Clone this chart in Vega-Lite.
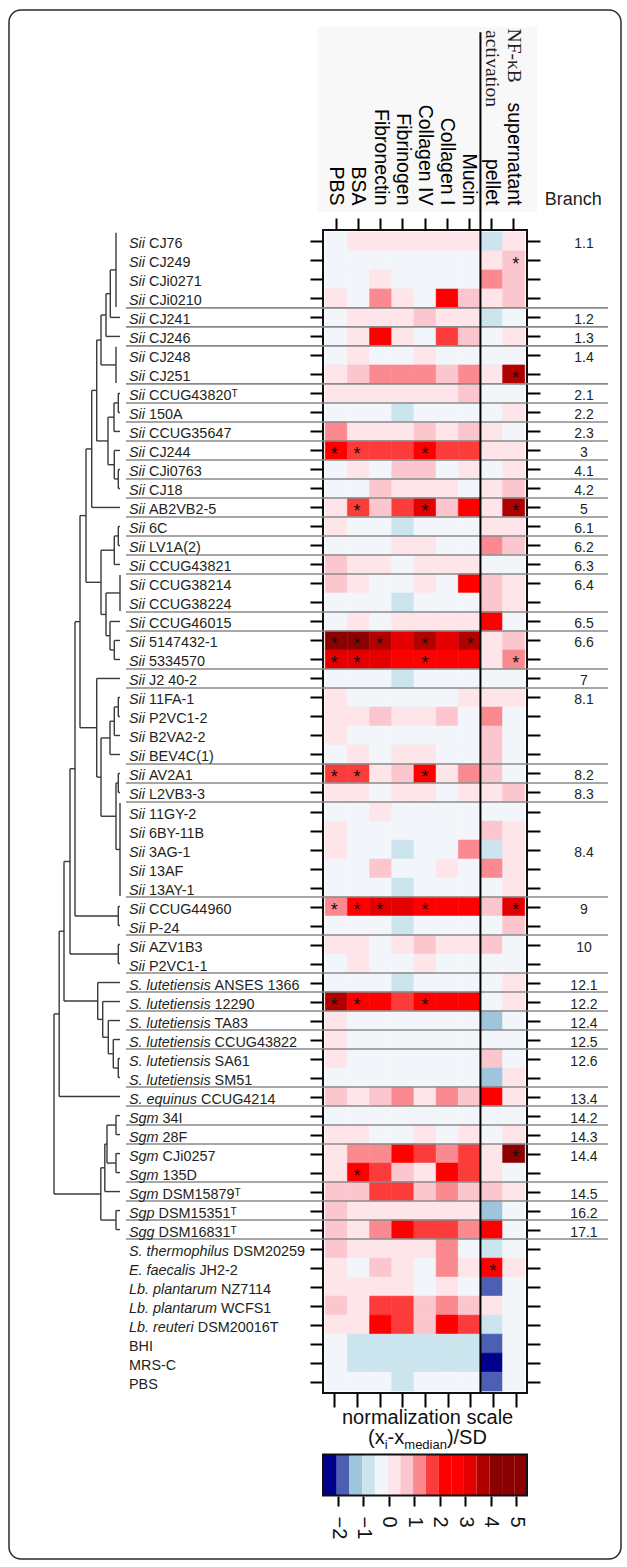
{
"$schema": "https://vega.github.io/schema/vega-lite/v6.json",
"width": 204,
"height": 1163,
"autosize": {"type": "none"},
"padding": {"left": 323, "top": 230, "right": 100, "bottom": 174},
"background": "#ffffff",
"config": {"font": "Liberation Sans", "view": {"stroke": "#111111", "strokeWidth": 2}, "axis": {"grid": false, "domain": false}},
"resolve": {"scale": {"x": "independent", "y": "independent"}},
"datasets": {
"strains": [
{"row":1,"sp":"Sii","id":"CJ76","PBS":-0.3,"BSA":0.2,"Fibronectin":0.2,"Fibrinogen":0.2,"Collagen IV":0.2,"Collagen I":0.2,"Mucin":0.2,"pellet":-0.8,"supernatant":0.2},
{"row":2,"sp":"Sii","id":"CJ249","PBS":-0.3,"BSA":-0.3,"Fibronectin":-0.3,"Fibrinogen":-0.3,"Collagen IV":-0.3,"Collagen I":-0.3,"Mucin":-0.3,"pellet":0.2,"supernatant":0.7},
{"row":3,"sp":"Sii","id":"CJi0271","PBS":-0.3,"BSA":-0.3,"Fibronectin":0.2,"Fibrinogen":-0.3,"Collagen IV":-0.3,"Collagen I":-0.3,"Mucin":-0.3,"pellet":1.2,"supernatant":0.7},
{"row":4,"sp":"Sii","id":"CJi0210","PBS":0.2,"BSA":-0.3,"Fibronectin":1.2,"Fibrinogen":0.2,"Collagen IV":-0.3,"Collagen I":2.2,"Mucin":0.7,"pellet":0.2,"supernatant":0.7},
{"row":5,"sp":"Sii","id":"CJ241","PBS":-0.3,"BSA":0.2,"Fibronectin":0.2,"Fibrinogen":0.2,"Collagen IV":0.7,"Collagen I":0.2,"Mucin":0.2,"pellet":-0.8,"supernatant":-0.3},
{"row":6,"sp":"Sii","id":"CJ246","PBS":-0.3,"BSA":0.2,"Fibronectin":2.2,"Fibrinogen":0.2,"Collagen IV":-0.3,"Collagen I":1.7,"Mucin":0.7,"pellet":-0.3,"supernatant":0.2},
{"row":7,"sp":"Sii","id":"CJ248","PBS":-0.3,"BSA":0.2,"Fibronectin":-0.3,"Fibrinogen":-0.3,"Collagen IV":0.2,"Collagen I":-0.3,"Mucin":-0.3,"pellet":-0.3,"supernatant":-0.3},
{"row":8,"sp":"Sii","id":"CJ251","PBS":0.2,"BSA":0.7,"Fibronectin":1.2,"Fibrinogen":1.2,"Collagen IV":1.2,"Collagen I":0.7,"Mucin":1.2,"pellet":0.2,"supernatant":3.7},
{"row":9,"sp":"Sii","id":"CCUG43820\u1d40","PBS":0.2,"BSA":0.2,"Fibronectin":0.2,"Fibrinogen":0.2,"Collagen IV":0.2,"Collagen I":0.2,"Mucin":0.7,"pellet":-0.3,"supernatant":-0.3},
{"row":10,"sp":"Sii","id":"150A","PBS":-0.3,"BSA":-0.3,"Fibronectin":-0.3,"Fibrinogen":-0.8,"Collagen IV":-0.3,"Collagen I":-0.3,"Mucin":-0.3,"pellet":-0.3,"supernatant":0.2},
{"row":11,"sp":"Sii","id":"CCUG35647","PBS":1.2,"BSA":0.2,"Fibronectin":0.2,"Fibrinogen":0.2,"Collagen IV":0.7,"Collagen I":0.2,"Mucin":0.7,"pellet":0.2,"supernatant":-0.3},
{"row":12,"sp":"Sii","id":"CJ244","PBS":2.2,"BSA":1.7,"Fibronectin":1.7,"Fibrinogen":1.7,"Collagen IV":2.2,"Collagen I":1.7,"Mucin":1.7,"pellet":0.2,"supernatant":0.2},
{"row":13,"sp":"Sii","id":"CJi0763","PBS":-0.3,"BSA":0.2,"Fibronectin":-0.3,"Fibrinogen":0.7,"Collagen IV":0.7,"Collagen I":-0.3,"Mucin":0.2,"pellet":-0.3,"supernatant":0.2},
{"row":14,"sp":"Sii","id":"CJ18","PBS":-0.3,"BSA":-0.3,"Fibronectin":0.7,"Fibrinogen":0.2,"Collagen IV":0.2,"Collagen I":0.2,"Mucin":-0.3,"pellet":0.2,"supernatant":0.7},
{"row":15,"sp":"Sii","id":"AB2VB2-5","PBS":0.2,"BSA":1.7,"Fibronectin":0.7,"Fibrinogen":1.7,"Collagen IV":3.2,"Collagen I":0.7,"Mucin":2.2,"pellet":0.2,"supernatant":3.7},
{"row":16,"sp":"Sii","id":"6C","PBS":0.2,"BSA":-0.3,"Fibronectin":-0.3,"Fibrinogen":-0.8,"Collagen IV":-0.3,"Collagen I":-0.3,"Mucin":-0.3,"pellet":0.2,"supernatant":0.2},
{"row":17,"sp":"Sii","id":"LV1A(2)","PBS":-0.3,"BSA":-0.3,"Fibronectin":-0.3,"Fibrinogen":0.2,"Collagen IV":0.2,"Collagen I":-0.3,"Mucin":-0.3,"pellet":1.2,"supernatant":0.7},
{"row":18,"sp":"Sii","id":"CCUG43821","PBS":0.7,"BSA":0.2,"Fibronectin":0.2,"Fibrinogen":-0.3,"Collagen IV":0.2,"Collagen I":0.2,"Mucin":0.2,"pellet":-0.3,"supernatant":-0.3},
{"row":19,"sp":"Sii","id":"CCUG38214","PBS":0.7,"BSA":0.2,"Fibronectin":-0.3,"Fibrinogen":-0.3,"Collagen IV":0.2,"Collagen I":-0.3,"Mucin":2.2,"pellet":0.7,"supernatant":0.2},
{"row":20,"sp":"Sii","id":"CCUG38224","PBS":-0.3,"BSA":-0.3,"Fibronectin":-0.3,"Fibrinogen":-0.8,"Collagen IV":-0.3,"Collagen I":-0.3,"Mucin":-0.3,"pellet":0.7,"supernatant":0.2},
{"row":21,"sp":"Sii","id":"CCUG46015","PBS":-0.3,"BSA":0.2,"Fibronectin":-0.3,"Fibrinogen":0.2,"Collagen IV":0.2,"Collagen I":0.2,"Mucin":0.2,"pellet":2.2,"supernatant":-0.3},
{"row":22,"sp":"Sii","id":"5147432-1","PBS":4.2,"BSA":4.2,"Fibronectin":3.7,"Fibrinogen":3.2,"Collagen IV":3.7,"Collagen I":3.2,"Mucin":3.7,"pellet":0.2,"supernatant":0.7},
{"row":23,"sp":"Sii","id":"5334570","PBS":3.2,"BSA":3.2,"Fibronectin":3.2,"Fibrinogen":2.2,"Collagen IV":2.2,"Collagen I":2.2,"Mucin":2.2,"pellet":0.2,"supernatant":1.2},
{"row":24,"sp":"Sii","id":"J2 40-2","PBS":-0.3,"BSA":-0.3,"Fibronectin":-0.3,"Fibrinogen":-0.8,"Collagen IV":-0.3,"Collagen I":-0.3,"Mucin":-0.3,"pellet":-0.3,"supernatant":-0.3},
{"row":25,"sp":"Sii","id":"11FA-1","PBS":0.2,"BSA":-0.3,"Fibronectin":-0.3,"Fibrinogen":-0.3,"Collagen IV":-0.3,"Collagen I":-0.3,"Mucin":0.2,"pellet":0.2,"supernatant":0.2},
{"row":26,"sp":"Sii","id":"P2VC1-2","PBS":0.2,"BSA":0.2,"Fibronectin":0.7,"Fibrinogen":0.2,"Collagen IV":0.2,"Collagen I":0.7,"Mucin":-0.3,"pellet":1.2,"supernatant":-0.3},
{"row":27,"sp":"Sii","id":"B2VA2-2","PBS":0.2,"BSA":-0.3,"Fibronectin":-0.3,"Fibrinogen":-0.3,"Collagen IV":-0.3,"Collagen I":-0.3,"Mucin":-0.3,"pellet":0.7,"supernatant":-0.3},
{"row":28,"sp":"Sii","id":"BEV4C(1)","PBS":-0.3,"BSA":0.2,"Fibronectin":-0.3,"Fibrinogen":0.2,"Collagen IV":0.2,"Collagen I":-0.3,"Mucin":-0.3,"pellet":0.7,"supernatant":-0.3},
{"row":29,"sp":"Sii","id":"AV2A1","PBS":1.7,"BSA":1.7,"Fibronectin":0.2,"Fibrinogen":0.7,"Collagen IV":2.2,"Collagen I":0.2,"Mucin":1.2,"pellet":0.7,"supernatant":-0.3},
{"row":30,"sp":"Sii","id":"L2VB3-3","PBS":0.2,"BSA":0.2,"Fibronectin":-0.3,"Fibrinogen":0.2,"Collagen IV":0.2,"Collagen I":-0.3,"Mucin":0.2,"pellet":0.2,"supernatant":0.7},
{"row":31,"sp":"Sii","id":"11GY-2","PBS":-0.3,"BSA":-0.3,"Fibronectin":0.2,"Fibrinogen":-0.3,"Collagen IV":-0.3,"Collagen I":-0.3,"Mucin":-0.3,"pellet":-0.3,"supernatant":-0.3},
{"row":32,"sp":"Sii","id":"6BY-11B","PBS":0.2,"BSA":-0.3,"Fibronectin":-0.3,"Fibrinogen":-0.3,"Collagen IV":-0.3,"Collagen I":-0.3,"Mucin":-0.3,"pellet":0.7,"supernatant":0.2},
{"row":33,"sp":"Sii","id":"3AG-1","PBS":0.2,"BSA":-0.3,"Fibronectin":-0.3,"Fibrinogen":-0.8,"Collagen IV":-0.3,"Collagen I":-0.3,"Mucin":1.2,"pellet":-0.8,"supernatant":0.2},
{"row":34,"sp":"Sii","id":"13AF","PBS":-0.3,"BSA":-0.3,"Fibronectin":0.7,"Fibrinogen":-0.3,"Collagen IV":-0.3,"Collagen I":0.2,"Mucin":-0.3,"pellet":1.2,"supernatant":0.2},
{"row":35,"sp":"Sii","id":"13AY-1","PBS":-0.3,"BSA":-0.3,"Fibronectin":-0.3,"Fibrinogen":-0.8,"Collagen IV":-0.3,"Collagen I":-0.3,"Mucin":-0.3,"pellet":-0.3,"supernatant":0.2},
{"row":36,"sp":"Sii","id":"CCUG44960","PBS":1.2,"BSA":2.2,"Fibronectin":3.2,"Fibrinogen":3.2,"Collagen IV":2.2,"Collagen I":2.2,"Mucin":2.2,"pellet":0.7,"supernatant":3.2},
{"row":37,"sp":"Sii","id":"P-24","PBS":-0.3,"BSA":-0.3,"Fibronectin":-0.3,"Fibrinogen":-0.8,"Collagen IV":-0.3,"Collagen I":-0.3,"Mucin":-0.3,"pellet":-0.3,"supernatant":0.7},
{"row":38,"sp":"Sii","id":"AZV1B3","PBS":0.2,"BSA":0.2,"Fibronectin":-0.3,"Fibrinogen":0.2,"Collagen IV":0.7,"Collagen I":0.2,"Mucin":0.2,"pellet":0.7,"supernatant":-0.3},
{"row":39,"sp":"Sii","id":"P2VC1-1","PBS":-0.3,"BSA":0.2,"Fibronectin":-0.3,"Fibrinogen":-0.3,"Collagen IV":0.2,"Collagen I":-0.3,"Mucin":-0.3,"pellet":-0.3,"supernatant":-0.3},
{"row":40,"sp":"S. lutetiensis","id":"ANSES 1366","PBS":-0.3,"BSA":-0.3,"Fibronectin":-0.3,"Fibrinogen":-0.8,"Collagen IV":-0.3,"Collagen I":-0.3,"Mucin":-0.3,"pellet":-0.3,"supernatant":0.2},
{"row":41,"sp":"S. lutetiensis","id":"12290","PBS":3.7,"BSA":2.2,"Fibronectin":2.2,"Fibrinogen":1.7,"Collagen IV":2.2,"Collagen I":2.2,"Mucin":2.2,"pellet":-0.3,"supernatant":0.2},
{"row":42,"sp":"S. lutetiensis","id":"TA83","PBS":0.2,"BSA":-0.3,"Fibronectin":-0.3,"Fibrinogen":-0.3,"Collagen IV":-0.3,"Collagen I":-0.3,"Mucin":-0.3,"pellet":-1.3,"supernatant":-0.3},
{"row":43,"sp":"S. lutetiensis","id":"CCUG43822","PBS":0.2,"BSA":-0.3,"Fibronectin":-0.3,"Fibrinogen":-0.3,"Collagen IV":-0.3,"Collagen I":-0.3,"Mucin":-0.3,"pellet":-0.3,"supernatant":-0.3},
{"row":44,"sp":"S. lutetiensis","id":"SA61","PBS":0.2,"BSA":-0.3,"Fibronectin":-0.3,"Fibrinogen":-0.3,"Collagen IV":-0.3,"Collagen I":-0.3,"Mucin":-0.3,"pellet":0.7,"supernatant":-0.3},
{"row":45,"sp":"S. lutetiensis","id":"SM51","PBS":-0.3,"BSA":-0.3,"Fibronectin":-0.3,"Fibrinogen":-0.3,"Collagen IV":-0.3,"Collagen I":-0.3,"Mucin":-0.3,"pellet":-1.3,"supernatant":0.2},
{"row":46,"sp":"S. equinus","id":"CCUG4214","PBS":0.7,"BSA":0.2,"Fibronectin":0.7,"Fibrinogen":1.2,"Collagen IV":0.2,"Collagen I":1.2,"Mucin":0.7,"pellet":2.2,"supernatant":0.2},
{"row":47,"sp":"Sgm","id":"34I","PBS":-0.3,"BSA":-0.3,"Fibronectin":-0.3,"Fibrinogen":-0.3,"Collagen IV":-0.3,"Collagen I":-0.3,"Mucin":-0.3,"pellet":-0.3,"supernatant":-0.3},
{"row":48,"sp":"Sgm","id":"28F","PBS":0.2,"BSA":0.2,"Fibronectin":-0.3,"Fibrinogen":-0.3,"Collagen IV":0.2,"Collagen I":-0.3,"Mucin":0.2,"pellet":-0.3,"supernatant":0.2},
{"row":49,"sp":"Sgm","id":"CJi0257","PBS":0.2,"BSA":1.2,"Fibronectin":1.2,"Fibrinogen":2.2,"Collagen IV":1.7,"Collagen I":1.2,"Mucin":1.7,"pellet":0.2,"supernatant":4.2},
{"row":50,"sp":"Sgm","id":"135D","PBS":0.2,"BSA":2.2,"Fibronectin":1.7,"Fibrinogen":0.7,"Collagen IV":0.2,"Collagen I":2.2,"Mucin":1.7,"pellet":0.2,"supernatant":-0.3},
{"row":51,"sp":"Sgm","id":"DSM15879\u1d40","PBS":0.7,"BSA":0.7,"Fibronectin":1.7,"Fibrinogen":1.7,"Collagen IV":0.7,"Collagen I":1.2,"Mucin":0.7,"pellet":0.7,"supernatant":0.2},
{"row":52,"sp":"Sgp","id":"DSM15351\u1d40","PBS":0.7,"BSA":0.2,"Fibronectin":0.2,"Fibrinogen":0.2,"Collagen IV":0.2,"Collagen I":0.2,"Mucin":0.2,"pellet":-1.3,"supernatant":-0.3},
{"row":53,"sp":"Sgg","id":"DSM16831\u1d40","PBS":0.7,"BSA":0.2,"Fibronectin":1.2,"Fibrinogen":2.2,"Collagen IV":1.7,"Collagen I":1.7,"Mucin":1.2,"pellet":2.2,"supernatant":-0.3},
{"row":54,"sp":"S. thermophilus","id":"DSM20259","PBS":0.7,"BSA":0.2,"Fibronectin":0.2,"Fibrinogen":0.2,"Collagen IV":0.2,"Collagen I":1.2,"Mucin":-0.3,"pellet":-0.8,"supernatant":-0.3},
{"row":55,"sp":"E. faecalis","id":"JH2-2","PBS":0.2,"BSA":-0.3,"Fibronectin":0.7,"Fibrinogen":0.2,"Collagen IV":-0.3,"Collagen I":1.2,"Mucin":0.2,"pellet":2.2,"supernatant":0.2},
{"row":56,"sp":"Lb. plantarum","id":"NZ7114","PBS":0.2,"BSA":0.2,"Fibronectin":0.2,"Fibrinogen":0.2,"Collagen IV":-0.3,"Collagen I":0.2,"Mucin":-0.3,"pellet":-1.8,"supernatant":-0.3},
{"row":57,"sp":"Lb. plantarum","id":"WCFS1","PBS":0.7,"BSA":0.2,"Fibronectin":1.7,"Fibrinogen":1.7,"Collagen IV":0.7,"Collagen I":1.2,"Mucin":0.7,"pellet":0.2,"supernatant":-0.3},
{"row":58,"sp":"Lb. reuteri","id":"DSM20016T","PBS":0.2,"BSA":0.2,"Fibronectin":2.2,"Fibrinogen":1.7,"Collagen IV":0.7,"Collagen I":2.2,"Mucin":1.7,"pellet":-0.8,"supernatant":-0.3},
{"row":59,"sp":"","id":"BHI","PBS":-0.3,"BSA":-0.8,"Fibronectin":-0.8,"Fibrinogen":-0.8,"Collagen IV":-0.8,"Collagen I":-0.8,"Mucin":-0.8,"pellet":-1.8,"supernatant":-0.3},
{"row":60,"sp":"","id":"MRS-C","PBS":-0.3,"BSA":-0.8,"Fibronectin":-0.8,"Fibrinogen":-0.8,"Collagen IV":-0.8,"Collagen I":-0.8,"Mucin":-0.8,"pellet":-2.3,"supernatant":-0.3},
{"row":61,"sp":"","id":"PBS","PBS":-0.3,"BSA":-0.3,"Fibronectin":-0.3,"Fibrinogen":-0.8,"Collagen IV":-0.3,"Collagen I":-0.3,"Mucin":-0.3,"pellet":-1.8,"supernatant":-0.3}
],
"stars": [
{"row":2,"assay":"supernatant"},{"row":8,"assay":"supernatant"},
{"row":12,"assay":"PBS"},{"row":12,"assay":"BSA"},{"row":12,"assay":"Collagen IV"},
{"row":15,"assay":"BSA"},{"row":15,"assay":"Collagen IV"},{"row":15,"assay":"supernatant"},
{"row":22,"assay":"PBS"},{"row":22,"assay":"BSA"},{"row":22,"assay":"Fibronectin"},{"row":22,"assay":"Collagen IV"},{"row":22,"assay":"Mucin"},
{"row":23,"assay":"PBS"},{"row":23,"assay":"BSA"},{"row":23,"assay":"Collagen IV"},{"row":23,"assay":"supernatant"},
{"row":29,"assay":"PBS"},{"row":29,"assay":"BSA"},{"row":29,"assay":"Collagen IV"},
{"row":36,"assay":"PBS"},{"row":36,"assay":"BSA"},{"row":36,"assay":"Fibronectin"},{"row":36,"assay":"Collagen IV"},{"row":36,"assay":"supernatant"},
{"row":41,"assay":"PBS"},{"row":41,"assay":"BSA"},{"row":41,"assay":"Collagen IV"},
{"row":49,"assay":"supernatant"},{"row":50,"assay":"BSA"},{"row":55,"assay":"pellet"}
],
"branches": [
{"branch":"1.1","at":1,"last":4},{"branch":"1.2","at":5,"last":5},{"branch":"1.3","at":6,"last":6},{"branch":"1.4","at":7,"last":8},
{"branch":"2.1","at":9,"last":9},{"branch":"2.2","at":10,"last":10},{"branch":"2.3","at":11,"last":11},{"branch":"3","at":12,"last":12},
{"branch":"4.1","at":13,"last":13},{"branch":"4.2","at":14,"last":14},{"branch":"5","at":15,"last":15},{"branch":"6.1","at":16,"last":16},
{"branch":"6.2","at":17,"last":17},{"branch":"6.3","at":18,"last":18},{"branch":"6.4","at":19,"last":20},{"branch":"6.5","at":21,"last":21},
{"branch":"6.6","at":22,"last":23},{"branch":"7","at":24,"last":24},{"branch":"8.1","at":25,"last":28},{"branch":"8.2","at":29,"last":29},
{"branch":"8.3","at":30,"last":30},{"branch":"8.4","at":33,"last":35},{"branch":"9","at":36,"last":37},{"branch":"10","at":38,"last":39},
{"branch":"12.1","at":40,"last":40},{"branch":"12.2","at":41,"last":41},{"branch":"12.4","at":42,"last":42},{"branch":"12.5","at":43,"last":43},
{"branch":"12.6","at":44,"last":45},{"branch":"13.4","at":46,"last":46},{"branch":"14.2","at":47,"last":47},{"branch":"14.3","at":48,"last":48},
{"branch":"14.4","at":49,"last":50},{"branch":"14.5","at":51,"last":51},{"branch":"16.2","at":52,"last":52},{"branch":"17.1","at":53,"last":53}
],
"tree": [
{"d":4,"top":0.55,"bot":4.45,"dt":4,"db":4},
{"d":4,"top":6.55,"bot":8.45,"dt":4,"db":4},
{"d":0,"top":18.55,"bot":20.45,"dt":0,"db":0},
{"d":0,"top":30.55,"bot":35.45,"dt":0,"db":0},
{"d":9.7,"top":2.5,"bot":5,"dt":4,"db":0},
{"d":14,"top":3.75,"bot":6,"dt":9.7,"db":0},
{"d":19,"top":4.875,"bot":7.5,"dt":14,"db":4},
{"d":1.7,"top":9,"bot":10,"dt":0,"db":0},
{"d":6,"top":9.5,"bot":11,"dt":1.7,"db":0},
{"d":1.7,"top":13,"bot":14,"dt":0,"db":0},
{"d":5.7,"top":12,"bot":13.5,"dt":0,"db":1.7},
{"d":12,"top":10.25,"bot":12.75,"dt":6,"db":5.7},
{"d":23.3,"top":6.19,"bot":11.5,"dt":19,"db":12},
{"d":28.3,"top":8.84,"bot":15,"dt":23.3,"db":0},
{"d":1.7,"top":16,"bot":17,"dt":0,"db":0},
{"d":5.7,"top":16.5,"bot":18,"dt":1.7,"db":0},
{"d":5.7,"top":22,"bot":23,"dt":0,"db":0},
{"d":10,"top":21,"bot":22.5,"dt":0,"db":5.7},
{"d":14,"top":19.5,"bot":21.75,"dt":0,"db":10},
{"d":19,"top":17.25,"bot":20.63,"dt":5.7,"db":14},
{"d":34,"top":11.92,"bot":18.94,"dt":28.3,"db":19},
{"d":1.7,"top":25,"bot":26,"dt":0,"db":0},
{"d":5.7,"top":25.5,"bot":27,"dt":1.7,"db":0},
{"d":10,"top":26.25,"bot":28,"dt":5.7,"db":0},
{"d":1.7,"top":29,"bot":30,"dt":0,"db":0},
{"d":4,"top":29.5,"bot":33,"dt":1.7,"db":0},
{"d":19,"top":27.13,"bot":31.25,"dt":10,"db":4},
{"d":23.3,"top":24,"bot":29.19,"dt":0,"db":19},
{"d":40,"top":15.43,"bot":26.59,"dt":34,"db":23.3},
{"d":1.7,"top":36,"bot":37,"dt":0,"db":0},
{"d":45,"top":21.01,"bot":36.5,"dt":40,"db":1.7},
{"d":1.7,"top":38,"bot":39,"dt":0,"db":0},
{"d":50,"top":28.75,"bot":38.5,"dt":45,"db":1.7},
{"d":1.7,"top":44,"bot":45,"dt":0,"db":0},
{"d":6.7,"top":43,"bot":44.5,"dt":0,"db":1.7},
{"d":11.7,"top":42,"bot":43.75,"dt":0,"db":6.7},
{"d":17.3,"top":41,"bot":42.88,"dt":0,"db":11.7},
{"d":22.3,"top":40,"bot":41.94,"dt":0,"db":17.3},
{"d":56,"top":33.63,"bot":40.97,"dt":50,"db":22.3},
{"d":60.8,"top":37.3,"bot":46,"dt":56,"db":0},
{"d":4,"top":47,"bot":48,"dt":0,"db":0},
{"d":4,"top":49,"bot":50,"dt":0,"db":0},
{"d":13,"top":47.5,"bot":49.5,"dt":4,"db":4},
{"d":15.2,"top":48.5,"bot":51,"dt":13,"db":0},
{"d":4,"top":52,"bot":53,"dt":0,"db":0},
{"d":19.2,"top":49.75,"bot":52.5,"dt":15.2,"db":4},
{"d":66,"top":41.65,"bot":51.13,"dt":60.8,"db":19.2}
],
"bins": [
{"lo":-2.59,"hi":-2.05,"mid":-2.3},{"lo":-2.05,"hi":-1.55,"mid":-1.8},{"lo":-1.55,"hi":-1.05,"mid":-1.3},{"lo":-1.05,"hi":-0.55,"mid":-0.8},
{"lo":-0.55,"hi":-0.05,"mid":-0.3},{"lo":-0.05,"hi":0.45,"mid":0.2},{"lo":0.45,"hi":0.95,"mid":0.7},{"lo":0.95,"hi":1.45,"mid":1.2},
{"lo":1.45,"hi":1.95,"mid":1.7},{"lo":1.95,"hi":2.45,"mid":2.2},{"lo":2.45,"hi":2.95,"mid":2.7},{"lo":2.95,"hi":3.45,"mid":3.2},
{"lo":3.45,"hi":3.95,"mid":3.7},{"lo":3.95,"hi":4.45,"mid":4.2},{"lo":4.45,"hi":4.95,"mid":4.7},{"lo":4.95,"hi":5.43,"mid":5.2}
]
},
"layer": [
{"data": {"values": [{}]},
 "mark": {"type": "rect", "fill": "transparent", "stroke": "#2b2b2b", "strokeWidth": 1.5, "cornerRadius": 12},
 "encoding": {
  "x": {"datum": -13.761, "type": "quantitative", "scale": {"domain": [0.4, 9.6], "nice": false, "zero": false}, "axis": null},
  "x2": {"datum": 13.839},
  "y": {"datum": -11.177, "type": "quantitative", "scale": {"domain": [0.4, 61.6], "reverse": true, "nice": false, "zero": false}, "axis": null},
  "y2": {"datum": 70.335}}},
{"data": {"values": [{}]},
 "mark": {"type": "rect", "fill": "#f8f8f8"},
 "encoding": {
  "x": {"datum": 0.1745, "type": "quantitative", "scale": {"domain": [0.4, 9.6], "nice": false, "zero": false}, "axis": null},
  "x2": {"datum": 10.051},
  "y": {"datum": -10.282, "type": "quantitative", "scale": {"domain": [0.4, 61.6], "reverse": true, "nice": false, "zero": false}, "axis": null},
  "y2": {"datum": -0.547}}},
{"data": {"name": "strains"},
 "transform": [{"fold": ["PBS", "BSA", "Fibronectin", "Fibrinogen", "Collagen IV", "Collagen I", "Mucin", "pellet", "supernatant"], "as": ["assay", "z"]}],
 "mark": {"type": "rect", "yOffset": -9.5, "y2Offset": 9.5, "strokeWidth": 0.5},
 "encoding": {
  "x": {"field": "assay", "type": "nominal",
        "scale": {"domain": ["PBS", "BSA", "Fibronectin", "Fibrinogen", "Collagen IV", "Collagen I", "Mucin", "pellet", "supernatant"], "paddingInner": 0, "paddingOuter": 0.1},
        "axis": {"orient": "top", "title": null, "domain": false, "grid": false, "tickSize": 12, "tickWidth": 2, "tickColor": "#000000",
                 "labelAngle": 90, "labelAlign": "right", "labelBaseline": "middle", "labelFont": "Liberation Sans", "labelFontSize": 19.5,
                 "labelColor": "#000000", "labelPadding": 13, "labelOverlap": false, "labelLimit": 0}},
  "y": {"field": "row", "type": "quantitative", "scale": {"domain": [0.4, 61.6], "reverse": true, "nice": false, "zero": false},
        "axis": {"orient": "left", "title": null, "domain": false, "grid": false, "labels": false, "tickSize": 13, "tickWidth": 2, "tickColor": "#000000",
                 "values": [1,2,3,4,5,6,7,8,9,10,11,12,13,14,15,16,17,18,19,20,21,22,23,24,25,26,27,28,29,30,31,32,33,34,35,36,37,38,39,40,41,42,43,44,45,46,47,48,49,50,51,52,53,54,55,56,57,58,59,60,61]}},
  "y2": {"field": "row"},
  "color": {"field": "z", "type": "quantitative",
            "scale": {"type": "threshold", "domain": [-2.05,-1.55,-1.05,-0.55,-0.05,0.45,0.95,1.45,1.95,2.45,2.95,3.45,3.95,4.45,4.95],
                      "range": ["#00008b","#4b5fb3","#9fc5dd","#cbe4ee","#f2f6fa","#fde5e9","#fcc6cf","#fb8a90","#fc3b3b","#ff0000","#fa0000","#e40000","#b10000","#8b0000","#8b0000","#8b0000"]},
            "legend": null},
  "stroke": {"field": "z", "type": "quantitative",
            "scale": {"type": "threshold", "domain": [-2.05,-1.55,-1.05,-0.55,-0.05,0.45,0.95,1.45,1.95,2.45,2.95,3.45,3.95,4.45,4.95],
                      "range": ["#00008b","#4b5fb3","#9fc5dd","#cbe4ee","#f2f6fa","#fde5e9","#fcc6cf","#fb8a90","#fc3b3b","#ff0000","#fa0000","#e40000","#b10000","#8b0000","#8b0000","#8b0000"]},
            "legend": null}}},
{"data": {"name": "branches"},
 "mark": {"type": "rule", "stroke": "#8a8a8a", "strokeWidth": 1.6, "yOffset": 9.5},
 "encoding": {
  "x": {"datum": -8.484, "type": "quantitative", "scale": {"domain": [0.4, 9.6], "nice": false, "zero": false}, "axis": null},
  "x2": {"datum": 13.253},
  "y": {"field": "last", "type": "quantitative", "scale": {"domain": [0.4, 61.6], "reverse": true, "nice": false, "zero": false}, "axis": null}}},
{"data": {"values": [{}]},
 "mark": {"type": "rule", "stroke": "#000000", "strokeWidth": 2},
 "encoding": {
  "x": {"datum": 7.5, "type": "quantitative", "scale": {"domain": [0.4, 9.6], "nice": false, "zero": false}, "axis": null},
  "y": {"datum": -10, "type": "quantitative", "scale": {"domain": [0.4, 61.6], "reverse": true, "nice": false, "zero": false}, "axis": null},
  "y2": {"datum": 61.6}}},
{"data": {"name": "stars"},
 "mark": {"type": "text", "fontSize": 18, "dy": 4.5, "color": "#111111", "font": "Liberation Sans"},
 "encoding": {
  "x": {"field": "assay", "type": "nominal",
        "scale": {"domain": ["PBS", "BSA", "Fibronectin", "Fibrinogen", "Collagen IV", "Collagen I", "Mucin", "pellet", "supernatant"], "paddingInner": 0, "paddingOuter": 0.1},
        "axis": {"orient": "bottom", "title": null, "domain": false, "grid": false, "labels": false, "tickSize": 14, "tickWidth": 2, "tickColor": "#000000"}},
  "y": {"field": "row", "type": "quantitative", "scale": {"domain": [0.4, 61.6], "reverse": true, "nice": false, "zero": false},
        "axis": {"orient": "right", "title": null, "domain": false, "grid": false, "labels": false, "tickSize": 13, "tickWidth": 2, "tickColor": "#000000",
                 "values": [1,2,3,4,5,6,7,8,9,10,11,12,13,14,15,16,17,18,19,20,21,22,23,24,25,26,27,28,29,30,31,32,33,34,35,36,37,38,39,40,41,42,43,44,45,46,47,48,49,50,51,52,53,54,55,56,57,58,59,60,61]}},
  "text": {"value": "*"}}},
{"data": {"name": "tree"},
 "mark": {"type": "rule", "stroke": "#3a3a3a", "strokeWidth": 1.4},
 "encoding": {
  "x": {"field": "d", "type": "quantitative", "scale": {"domain": [0, 100], "range": [-203, -303], "nice": false, "zero": false}, "axis": null},
  "y": {"field": "top", "type": "quantitative", "scale": {"domain": [0.4, 61.6], "reverse": true, "nice": false, "zero": false}, "axis": null},
  "y2": {"field": "bot"}}},
{"data": {"name": "tree"},
 "mark": {"type": "rule", "stroke": "#3a3a3a", "strokeWidth": 1.4},
 "encoding": {
  "x": {"field": "d", "type": "quantitative", "scale": {"domain": [0, 100], "range": [-203, -303], "nice": false, "zero": false}, "axis": null},
  "x2": {"field": "dt"},
  "y": {"field": "top", "type": "quantitative", "scale": {"domain": [0.4, 61.6], "reverse": true, "nice": false, "zero": false}, "axis": null}}},
{"data": {"name": "tree"},
 "mark": {"type": "rule", "stroke": "#3a3a3a", "strokeWidth": 1.4},
 "encoding": {
  "x": {"field": "d", "type": "quantitative", "scale": {"domain": [0, 100], "range": [-203, -303], "nice": false, "zero": false}, "axis": null},
  "x2": {"field": "db"},
  "y": {"field": "bot", "type": "quantitative", "scale": {"domain": [0.4, 61.6], "reverse": true, "nice": false, "zero": false}, "axis": null}}},
{"data": {"name": "strains"}, "transform": [{"filter": "datum.sp != ''"}],
 "mark": {"type": "text", "align": "left", "baseline": "middle", "dx": 9, "dy": 3, "fontSize": 14.4, "fontStyle": "italic", "color": "#231f20"},
 "encoding": {
  "x": {"datum": 0, "type": "quantitative", "scale": {"domain": [0, 100], "range": [-203, -303], "nice": false, "zero": false}, "axis": null},
  "y": {"field": "row", "type": "quantitative", "scale": {"domain": [0.4, 61.6], "reverse": true, "nice": false, "zero": false}, "axis": null},
  "text": {"field": "sp"}}},
{"data": {"name": "strains"}, "transform": [{"filter": "datum.sp == 'Sii'"}],
 "mark": {"type": "text", "align": "left", "baseline": "middle", "dx": 29, "dy": 3, "fontSize": 14.4, "color": "#231f20"},
 "encoding": {
  "x": {"datum": 0, "type": "quantitative", "scale": {"domain": [0, 100], "range": [-203, -303], "nice": false, "zero": false}, "axis": null},
  "y": {"field": "row", "type": "quantitative", "scale": {"domain": [0.4, 61.6], "reverse": true, "nice": false, "zero": false}, "axis": null},
  "text": {"field": "id"}}},
{"data": {"name": "strains"}, "transform": [{"filter": "datum.sp == 'S. lutetiensis'"}],
 "mark": {"type": "text", "align": "left", "baseline": "middle", "dx": 94.6, "dy": 3, "fontSize": 14.4, "color": "#231f20"},
 "encoding": {
  "x": {"datum": 0, "type": "quantitative", "scale": {"domain": [0, 100], "range": [-203, -303], "nice": false, "zero": false}, "axis": null},
  "y": {"field": "row", "type": "quantitative", "scale": {"domain": [0.4, 61.6], "reverse": true, "nice": false, "zero": false}, "axis": null},
  "text": {"field": "id"}}},
{"data": {"name": "strains"}, "transform": [{"filter": "datum.sp == 'S. equinus'"}],
 "mark": {"type": "text", "align": "left", "baseline": "middle", "dx": 81, "dy": 3, "fontSize": 14.4, "color": "#231f20"},
 "encoding": {
  "x": {"datum": 0, "type": "quantitative", "scale": {"domain": [0, 100], "range": [-203, -303], "nice": false, "zero": false}, "axis": null},
  "y": {"field": "row", "type": "quantitative", "scale": {"domain": [0.4, 61.6], "reverse": true, "nice": false, "zero": false}, "axis": null},
  "text": {"field": "id"}}},
{"data": {"name": "strains"}, "transform": [{"filter": "datum.sp == 'Sgm'"}],
 "mark": {"type": "text", "align": "left", "baseline": "middle", "dx": 42.6, "dy": 3, "fontSize": 14.4, "color": "#231f20"},
 "encoding": {
  "x": {"datum": 0, "type": "quantitative", "scale": {"domain": [0, 100], "range": [-203, -303], "nice": false, "zero": false}, "axis": null},
  "y": {"field": "row", "type": "quantitative", "scale": {"domain": [0.4, 61.6], "reverse": true, "nice": false, "zero": false}, "axis": null},
  "text": {"field": "id"}}},
{"data": {"name": "strains"}, "transform": [{"filter": "datum.sp == 'Sgp' || datum.sp == 'Sgg'"}],
 "mark": {"type": "text", "align": "left", "baseline": "middle", "dx": 38.6, "dy": 3, "fontSize": 14.4, "color": "#231f20"},
 "encoding": {
  "x": {"datum": 0, "type": "quantitative", "scale": {"domain": [0, 100], "range": [-203, -303], "nice": false, "zero": false}, "axis": null},
  "y": {"field": "row", "type": "quantitative", "scale": {"domain": [0.4, 61.6], "reverse": true, "nice": false, "zero": false}, "axis": null},
  "text": {"field": "id"}}},
{"data": {"name": "strains"}, "transform": [{"filter": "datum.sp == 'S. thermophilus'"}],
 "mark": {"type": "text", "align": "left", "baseline": "middle", "dx": 113, "dy": 3, "fontSize": 14.4, "color": "#231f20"},
 "encoding": {
  "x": {"datum": 0, "type": "quantitative", "scale": {"domain": [0, 100], "range": [-203, -303], "nice": false, "zero": false}, "axis": null},
  "y": {"field": "row", "type": "quantitative", "scale": {"domain": [0.4, 61.6], "reverse": true, "nice": false, "zero": false}, "axis": null},
  "text": {"field": "id"}}},
{"data": {"name": "strains"}, "transform": [{"filter": "datum.sp == 'E. faecalis'"}],
 "mark": {"type": "text", "align": "left", "baseline": "middle", "dx": 79.4, "dy": 3, "fontSize": 14.4, "color": "#231f20"},
 "encoding": {
  "x": {"datum": 0, "type": "quantitative", "scale": {"domain": [0, 100], "range": [-203, -303], "nice": false, "zero": false}, "axis": null},
  "y": {"field": "row", "type": "quantitative", "scale": {"domain": [0.4, 61.6], "reverse": true, "nice": false, "zero": false}, "axis": null},
  "text": {"field": "id"}}},
{"data": {"name": "strains"}, "transform": [{"filter": "datum.sp == 'Lb. plantarum'"}],
 "mark": {"type": "text", "align": "left", "baseline": "middle", "dx": 101, "dy": 3, "fontSize": 14.4, "color": "#231f20"},
 "encoding": {
  "x": {"datum": 0, "type": "quantitative", "scale": {"domain": [0, 100], "range": [-203, -303], "nice": false, "zero": false}, "axis": null},
  "y": {"field": "row", "type": "quantitative", "scale": {"domain": [0.4, 61.6], "reverse": true, "nice": false, "zero": false}, "axis": null},
  "text": {"field": "id"}}},
{"data": {"name": "strains"}, "transform": [{"filter": "datum.sp == 'Lb. reuteri'"}],
 "mark": {"type": "text", "align": "left", "baseline": "middle", "dx": 77.8, "dy": 3, "fontSize": 14.4, "color": "#231f20"},
 "encoding": {
  "x": {"datum": 0, "type": "quantitative", "scale": {"domain": [0, 100], "range": [-203, -303], "nice": false, "zero": false}, "axis": null},
  "y": {"field": "row", "type": "quantitative", "scale": {"domain": [0.4, 61.6], "reverse": true, "nice": false, "zero": false}, "axis": null},
  "text": {"field": "id"}}},
{"data": {"name": "strains"}, "transform": [{"filter": "datum.sp == ''"}],
 "mark": {"type": "text", "align": "left", "baseline": "middle", "dx": 9, "dy": 3, "fontSize": 14.4, "color": "#231f20"},
 "encoding": {
  "x": {"datum": 0, "type": "quantitative", "scale": {"domain": [0, 100], "range": [-203, -303], "nice": false, "zero": false}, "axis": null},
  "y": {"field": "row", "type": "quantitative", "scale": {"domain": [0.4, 61.6], "reverse": true, "nice": false, "zero": false}, "axis": null},
  "text": {"field": "id"}}},
{"data": {"name": "branches"},
 "mark": {"type": "text", "align": "center", "baseline": "middle", "dy": 3, "fontSize": 14, "color": "#231f20"},
 "encoding": {
  "x": {"datum": 12.17, "type": "quantitative", "scale": {"domain": [0.4, 9.6], "nice": false, "zero": false}, "axis": null},
  "y": {"field": "at", "type": "quantitative", "scale": {"domain": [0.4, 61.6], "reverse": true, "nice": false, "zero": false}, "axis": null},
  "text": {"field": "branch"}}},
{"data": {"values": [{}]},
 "mark": {"type": "text", "align": "center", "baseline": "middle", "fontSize": 18, "color": "#231f20"},
 "encoding": {
  "x": {"datum": 11.688, "type": "quantitative", "scale": {"domain": [0.4, 9.6], "nice": false, "zero": false}, "axis": null},
  "y": {"datum": -1.18, "type": "quantitative", "scale": {"domain": [0.4, 61.6], "reverse": true, "nice": false, "zero": false}, "axis": null},
  "text": {"value": "Branch"}}},
{"data": {"values": [{}]},
 "mark": {"type": "text", "align": "left", "baseline": "middle", "angle": 90, "font": "Liberation Serif", "fontSize": 19.5, "color": "#231f20"},
 "encoding": {
  "x": {"datum": 9, "type": "quantitative", "scale": {"domain": [0.4, 9.6], "nice": false, "zero": false}, "axis": null},
  "y": {"datum": -10.2, "type": "quantitative", "scale": {"domain": [0.4, 61.6], "reverse": true, "nice": false, "zero": false}, "axis": null},
  "text": {"value": "NF-κB"}}},
{"data": {"values": [{}]},
 "mark": {"type": "text", "align": "left", "baseline": "middle", "angle": 90, "font": "Liberation Serif", "fontSize": 19.5, "color": "#231f20"},
 "encoding": {
  "x": {"datum": 8, "type": "quantitative", "scale": {"domain": [0.4, 9.6], "nice": false, "zero": false}, "axis": null},
  "y": {"datum": -10.12, "type": "quantitative", "scale": {"domain": [0.4, 61.6], "reverse": true, "nice": false, "zero": false}, "axis": null},
  "text": {"value": "activation"}}},
{"data": {"values": [{}]},
 "mark": {"type": "text", "align": "center", "baseline": "middle", "fontSize": 20, "color": "#111111"},
 "encoding": {
  "x": {"datum": 5.117, "type": "quantitative", "scale": {"domain": [0.4, 9.6], "nice": false, "zero": false}, "axis": null},
  "y": {"datum": 62.9, "type": "quantitative", "scale": {"domain": [0.4, 61.6], "reverse": true, "nice": false, "zero": false}, "axis": null},
  "text": {"value": "normalization scale"}}},
{"data": {"values": [{}]},
 "mark": {"type": "text", "align": "left", "baseline": "middle", "fontSize": 20, "color": "#111111"},
 "encoding": {
  "x": {"datum": 2.429, "type": "quantitative", "scale": {"domain": [0.4, 9.6], "nice": false, "zero": false}, "axis": null},
  "y": {"datum": 63.98, "type": "quantitative", "scale": {"domain": [0.4, 61.6], "reverse": true, "nice": false, "zero": false}, "axis": null},
  "text": {"value": "(x"}}},
{"data": {"values": [{}]},
 "mark": {"type": "text", "align": "left", "baseline": "middle", "fontSize": 13, "color": "#111111"},
 "encoding": {
  "x": {"datum": 3.183, "type": "quantitative", "scale": {"domain": [0.4, 9.6], "nice": false, "zero": false}, "axis": null},
  "y": {"datum": 64.33, "type": "quantitative", "scale": {"domain": [0.4, 61.6], "reverse": true, "nice": false, "zero": false}, "axis": null},
  "text": {"value": "i"}}},
{"data": {"values": [{}]},
 "mark": {"type": "text", "align": "left", "baseline": "middle", "fontSize": 20, "color": "#111111"},
 "encoding": {
  "x": {"datum": 3.313, "type": "quantitative", "scale": {"domain": [0.4, 9.6], "nice": false, "zero": false}, "axis": null},
  "y": {"datum": 63.98, "type": "quantitative", "scale": {"domain": [0.4, 61.6], "reverse": true, "nice": false, "zero": false}, "axis": null},
  "text": {"value": "-x"}}},
{"data": {"values": [{}]},
 "mark": {"type": "text", "align": "left", "baseline": "middle", "fontSize": 13, "color": "#111111"},
 "encoding": {
  "x": {"datum": 4.067, "type": "quantitative", "scale": {"domain": [0.4, 9.6], "nice": false, "zero": false}, "axis": null},
  "y": {"datum": 64.33, "type": "quantitative", "scale": {"domain": [0.4, 61.6], "reverse": true, "nice": false, "zero": false}, "axis": null},
  "text": {"value": "median"}}},
{"data": {"values": [{}]},
 "mark": {"type": "text", "align": "left", "baseline": "middle", "fontSize": 20, "color": "#111111"},
 "encoding": {
  "x": {"datum": 5.988, "type": "quantitative", "scale": {"domain": [0.4, 9.6], "nice": false, "zero": false}, "axis": null},
  "y": {"datum": 63.98, "type": "quantitative", "scale": {"domain": [0.4, 61.6], "reverse": true, "nice": false, "zero": false}, "axis": null},
  "text": {"value": ")/SD"}}},
{"data": {"name": "bins"},
 "mark": {"type": "rect"},
 "encoding": {
  "x": {"field": "lo", "type": "quantitative", "scale": {"domain": [-2.59, 5.43], "nice": false, "zero": false},
        "axis": {"orient": "bottom", "offset": 103, "values": [-2,-1,0,1,2,3,4,5], "format": "d", "title": null, "domain": false, "grid": false,
                 "tickSize": 10, "tickWidth": 2, "tickColor": "#000000", "labelAngle": 90, "labelAlign": "left", "labelBaseline": "middle",
                 "labelFontSize": 20, "labelPadding": 10, "labelColor": "#111111", "labelFlush": false, "labelOverlap": false}},
  "x2": {"field": "hi"},
  "y": {"datum": 64.83, "type": "quantitative", "scale": {"domain": [0.4, 61.6], "reverse": true, "nice": false, "zero": false}, "axis": null},
  "y2": {"datum": 67.0},
  "color": {"field": "mid", "type": "quantitative",
            "scale": {"type": "threshold", "domain": [-2.05,-1.55,-1.05,-0.55,-0.05,0.45,0.95,1.45,1.95,2.45,2.95,3.45,3.95,4.45,4.95],
                      "range": ["#00008b","#4b5fb3","#9fc5dd","#cbe4ee","#f2f6fa","#fde5e9","#fcc6cf","#fb8a90","#fc3b3b","#ff0000","#fa0000","#e40000","#b10000","#8b0000","#8b0000","#8b0000"]},
            "legend": null}}},
{"data": {"values": [{}]},
 "mark": {"type": "rect", "fill": "transparent", "stroke": "#111111", "strokeWidth": 2},
 "encoding": {
  "x": {"datum": -2.59, "type": "quantitative", "scale": {"domain": [-2.59, 5.43], "nice": false, "zero": false}, "axis": null},
  "x2": {"datum": 5.43},
  "y": {"datum": 64.83, "type": "quantitative", "scale": {"domain": [0.4, 61.6], "reverse": true, "nice": false, "zero": false}, "axis": null},
  "y2": {"datum": 67.0}}}
]
}
